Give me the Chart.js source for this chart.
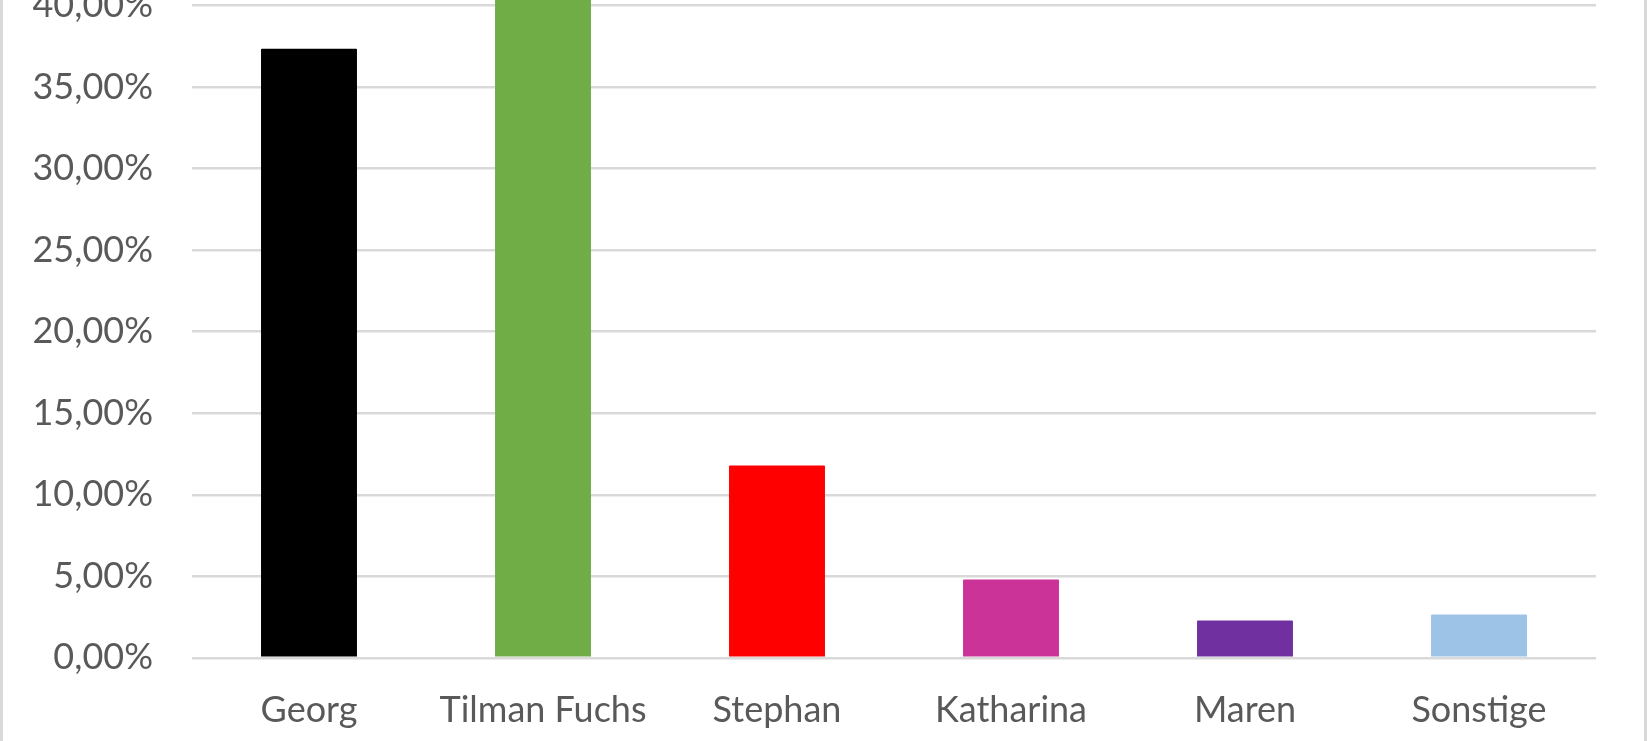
<!DOCTYPE html>
<html>
<head>
<meta charset="utf-8">
<script src="https://cdn.jsdelivr.net/npm/chart.js@4"></script>
<style>
    html, body { margin: 0; padding: 0; background: #fff; overflow: hidden; }
    body { width: 1647px; height: 741px; position: relative; }
    /* le haut du graphique est coupé comme dans l'original */
    #cadre {
        position: absolute; left: 0; top: -55px;
        width: 1647px; height: 819px;
        box-sizing: border-box;
        border-left: 3px solid #d9d9d9;
        border-right: 3px solid #d9d9d9;
    }
</style>
</head>
<body>
<div id="cadre"><canvas id="graph_stimmen"></canvas></div>
<script>
// Données
const kandidaten = ['Georg', 'Tilman Fuchs', 'Stephan', 'Katharina', 'Maren', 'Sonstige'];
const anteile = [37.36, 41.08, 11.80, 4.80, 2.29, 2.66];
const farben = ['#000000', '#70AD47', '#FF0000', '#CC3399', '#7030A0', '#9DC3E6'];
const yTicks = [0, 5, 10, 15, 20, 25, 30, 35, 40];

const grau = '#d9d9d9';
const textFarbe = '#595959';
const schrift = { family: 'Lato', size: 36 };

window.onload = function() {
    const ctx = document.getElementById('graph_stimmen').getContext('2d');
    new Chart(ctx, {
        type: 'bar',
        data: {
            labels: kandidaten,
            datasets: [{
                data: anteile,
                backgroundColor: farben,
                borderWidth: 0,
                borderRadius: 1,
                categoryPercentage: 1,
                barPercentage: 0.41,
                clip: false
            }]
        },
        options: {
            responsive: true,
            maintainAspectRatio: false,
            animation: false,
            layout: { padding: { top: 11, bottom: 9, left: 0, right: 48 } },
            plugins: {
                legend: { display: false },
                tooltip: { enabled: false }
            },
            scales: {
                x: {
                    grid: { display: false },
                    border: { display: false },
                    ticks: {
                        color: textFarbe,
                        font: schrift,
                        padding: 23,
                        maxRotation: 0,
                        autoSkip: false
                    }
                },
                y: {
                    min: 0,
                    max: 40,
                    afterFit: s => { s.width = 189; },
                    afterBuildTicks: s => { s.ticks = yTicks.map(v => ({ value: v })); },
                    grid: { color: grau, lineWidth: 2.5, drawTicks: false },
                    border: { display: false },
                    ticks: {
                        color: textFarbe,
                        font: schrift,
                        padding: 39,
                        callback: v => v.toFixed(2).replace('.', ',') + '%'
                    }
                }
            }
        }
    });
};
</script>
</body>
</html>
